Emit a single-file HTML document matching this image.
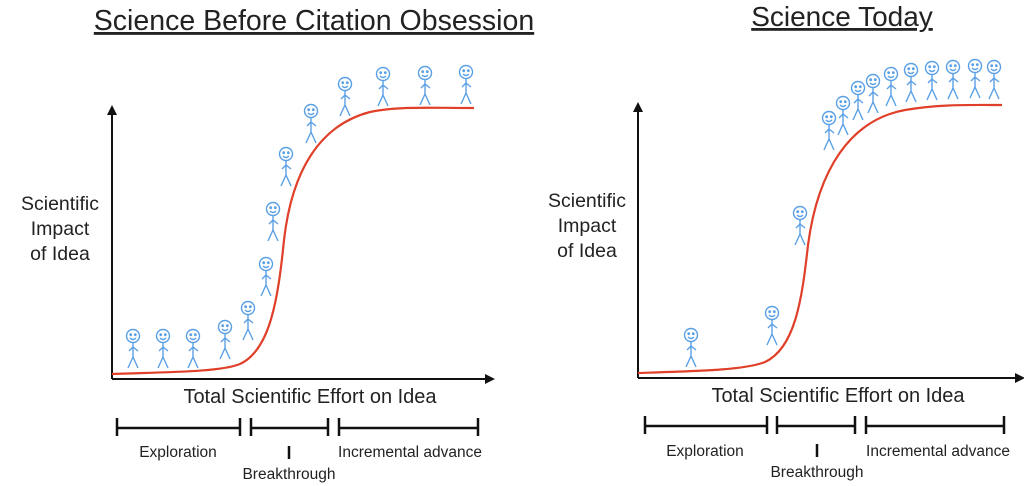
<!DOCTYPE html>
<html><head><style>body{margin:0;background:#fff}svg{display:block}text{font-family:"Liberation Sans",sans-serif;fill:#222}</style></head><body>
<svg width="1024" height="486" viewBox="0 0 1024 486" xmlns="http://www.w3.org/2000/svg">
<defs>
<marker id="ar" viewBox="0 0 10 10" refX="5" refY="5" markerWidth="5" markerHeight="5" orient="auto-start-reverse"><path d="M0,0L10,5L0,10z" fill="#111"/></marker>
<g id="p" fill="none" stroke="#5aa0e6" stroke-width="1.4">
<circle cx="0" cy="0" r="6.5"/><circle cx="-2.3" cy="-1.3" r=".7" fill="#5aa0e6"/><circle cx="2.3" cy="-1.3" r=".7" fill="#5aa0e6"/>
<path d="M-3,2Q0,5 3,2"/><path d="M0,6.5V21M0,11L-4,15M0,11L5,15M0,21L-5,32M0,21L5,32"/>
</g>
</defs>
<text x="314" y="30" font-size="28.5" text-anchor="middle" text-decoration="underline">Science Before Citation Obsession</text>
<text x="842" y="26" font-size="28" text-anchor="middle" text-decoration="underline">Science Today</text>
<path d="M112,379V110" stroke="#111" stroke-width="2" marker-end="url(#ar)"/>
<path d="M112,379H490" stroke="#111" stroke-width="2" marker-end="url(#ar)"/>
<path d="M112,374C170,372 220,372 240,364C270,350 278,300 284,240C292,170 320,125 370,112C400,106 430,108 474,108" fill="none" stroke="#e0402a" stroke-width="2.2"/>
<g font-size="19.5" text-anchor="middle"><text x="60" y="210">Scientific</text><text x="60" y="235">Impact</text><text x="60" y="260">of Idea</text></g>
<text x="310" y="403" font-size="20" text-anchor="middle">Total Scientific Effort on Idea</text>
<g stroke="#111" stroke-width="2.5"><path d="M117,428H240M117,418V436M240,418V436M251,428H328M251,418V436M328,418V436M339,428H478M339,418V436M478,418V436M289,446V459" /></g>
<g font-size="15.5" text-anchor="middle"><text x="178" y="457">Exploration</text><text x="289" y="479">Breakthrough</text><text x="410" y="457">Incremental advance</text></g>
<use href="#p" x="133" y="336"/><use href="#p" x="163" y="336"/><use href="#p" x="193" y="336"/><use href="#p" x="225" y="327"/><use href="#p" x="248" y="308"/><use href="#p" x="266" y="264"/><use href="#p" x="273" y="209"/><use href="#p" x="286" y="154"/><use href="#p" x="311" y="111"/><use href="#p" x="345" y="84"/><use href="#p" x="383" y="74"/><use href="#p" x="425" y="73"/><use href="#p" x="466" y="72"/>
<path d="M638,378V107" stroke="#111" stroke-width="2" marker-end="url(#ar)"/>
<path d="M638,378H1020" stroke="#111" stroke-width="2" marker-end="url(#ar)"/>
<path d="M638,373C700,371 745,370 765,362C795,348 802,300 808,245C818,170 850,120 905,110C940,104 970,105 1002,105" fill="none" stroke="#e0402a" stroke-width="2.2"/>
<g font-size="19.5" text-anchor="middle"><text x="587" y="207">Scientific</text><text x="587" y="232">Impact</text><text x="587" y="257">of Idea</text></g>
<text x="838" y="402" font-size="20" text-anchor="middle">Total Scientific Effort on Idea</text>
<g stroke="#111" stroke-width="2.5"><path d="M645,426H767M645,416V434M767,416V434M777,426H855M777,416V434M855,416V434M866,426H1004M866,416V434M1004,416V434M817,444V457"/></g>
<g font-size="15.5" text-anchor="middle"><text x="705" y="456">Exploration</text><text x="817" y="477">Breakthrough</text><text x="938" y="456">Incremental advance</text></g>
<use href="#p" x="691" y="335"/><use href="#p" x="772" y="313"/><use href="#p" x="800" y="213"/><use href="#p" x="829" y="118"/><use href="#p" x="843" y="103"/><use href="#p" x="858" y="88"/><use href="#p" x="873" y="81"/><use href="#p" x="891" y="74"/><use href="#p" x="911" y="70"/><use href="#p" x="932" y="68"/><use href="#p" x="953" y="67"/><use href="#p" x="975" y="66"/><use href="#p" x="994" y="67"/>
</svg>
</body></html>
